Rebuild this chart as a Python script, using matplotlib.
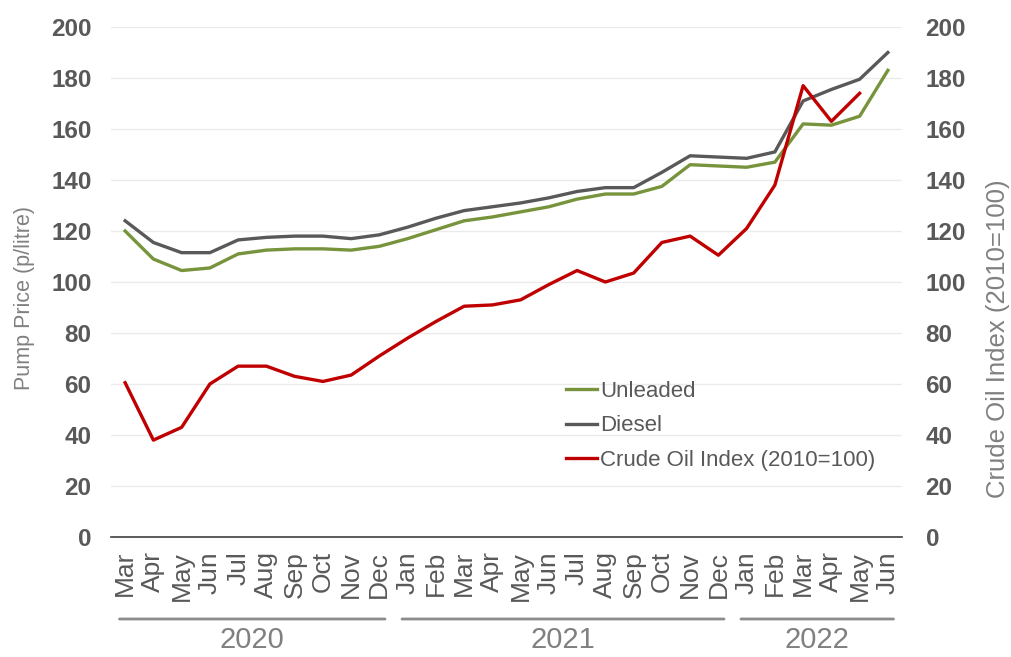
import matplotlib.pyplot as plt
import numpy as np

plt.rcParams['font.family'] = ['Liberation Sans', 'DejaVu Sans']

# data, Mar 2020 - Jun 2022
months = ['Mar', 'Apr', 'May', 'Jun', 'Jul', 'Aug', 'Sep', 'Oct', 'Nov', 'Dec',
          'Jan', 'Feb', 'Mar', 'Apr', 'May', 'Jun', 'Jul', 'Aug', 'Sep', 'Oct', 'Nov', 'Dec',
          'Jan', 'Feb', 'Mar', 'Apr', 'May', 'Jun']
years = ['2020', '2021', '2022']
year_counts = [10, 12, 6]

unleaded = [120, 109, 104.5, 105.5, 111, 112.5, 113, 113, 112.5, 114,
            117, 120.5, 124, 125.5, 127.5, 129.5, 132.5, 134.5, 134.5, 137.5, 146, 145.5,
            145, 147, 162, 161.5, 165, 183]
diesel = [124, 115.5, 111.5, 111.5, 116.5, 117.5, 118, 118, 117, 118.5,
          121.5, 125, 128, 129.5, 131, 133, 135.5, 137, 137, 143, 149.5, 149,
          148.5, 151, 171, 175.5, 179.5, 190]
crude = [60.5, 38, 43, 60, 67, 67, 63, 61, 63.5, 71,
         78, 84.5, 90.5, 91, 93, 99, 104.5, 100, 103.5, 115.5, 118, 110.5,
         121, 138, 177, 163, 174, np.nan]

green = '#77933C'
dgrey = '#595959'
red = '#C00000'
lgrey = '#808080'

fig = plt.figure(figsize=(10.11, 6.57), dpi=100)
ax = fig.add_axes([111/1011, 1-537/657, 791/1011, 510/657])
ax2 = ax.twinx()

x = np.arange(len(months))
l1, = ax.plot(x, unleaded, color=green, lw=2.4, label='Unleaded')
l2, = ax.plot(x, diesel, color=dgrey, lw=2.4, label='Diesel')
l3, = ax2.plot(x, crude, color=red, lw=2.4, label='Crude Oil Index (2010=100)')

for a in (ax, ax2):
    a.set_ylim(0, 200)
    a.set_yticks(range(0, 201, 20))
    a.set_xlim(-0.5, len(months)-0.5)
    for s in ['top', 'left', 'right', 'bottom']:
        a.spines[s].set_visible(False)
ax.spines['bottom'].set_visible(True)
ax.spines['bottom'].set_color('#404040')
ax.spines['bottom'].set_linewidth(1.2)

ax.yaxis.grid(True, color='#EBEBEB', lw=1)
ax.set_axisbelow(True)
ax.tick_params(axis='y', length=0, pad=14, labelsize=17.5, labelcolor=dgrey)
ax2.tick_params(axis='y', length=0, pad=17, labelsize=17.5, labelcolor=dgrey)
for t in ax.get_yticklabels() + ax2.get_yticklabels():
    t.set_fontweight('bold')

ax.set_xticks(x)
ax.set_xticklabels(months, rotation=90, fontsize=19, color=dgrey, va='top')
ax.tick_params(axis='x', length=0, pad=10)

ax.set_ylabel('Pump Price (p/litre)', fontsize=15.5, color=lgrey)
ax.yaxis.set_label_coords(25/1011, 1-298/657, transform=fig.transFigure)
ax2.set_ylabel('Crude Oil Index (2010=100)', fontsize=18.5, color=lgrey, rotation=90)
ax2.yaxis.set_label_coords(998/1011, 1-339/657, transform=fig.transFigure)
ax.yaxis.label.set_va('center')
ax2.yaxis.label.set_va('center')

# year group lines and labels
start = -0.5
line_y = 1 - 619/657
for yr, n in zip(years, year_counts):
    end = start + n
    ax.annotate('', xy=(start + 0.3, line_y), xytext=(end - 0.3, line_y),
                xycoords=('data', 'figure fraction'), textcoords=('data', 'figure fraction'),
                arrowprops=dict(arrowstyle='-', color='#8C8C8C', lw=2, shrinkA=0, shrinkB=0))
    ax.annotate(yr, xy=((start + end) / 2, 1 - 640/657), xycoords=('data', 'figure fraction'),
                ha='center', va='center', fontsize=21, color=lgrey, annotation_clip=False)
    start = end

leg = ax.legend(handles=[l1, l2, l3], loc='upper left', frameon=False,
                bbox_to_anchor=(566/1011, 1-381/657), bbox_transform=fig.transFigure,
                fontsize=16, handlelength=1.4, handletextpad=0.15, labelspacing=0.6,
                borderpad=0, borderaxespad=0)
for t in leg.get_texts():
    t.set_color(dgrey)

fig.savefig('out.png', dpi=100)
